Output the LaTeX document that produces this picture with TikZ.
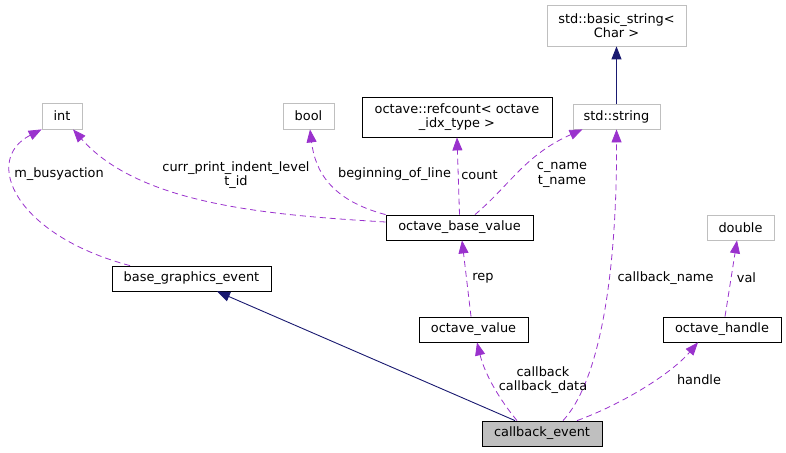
\documentclass[tikz,border=0pt]{standalone}
\usepackage{fontspec}
\setmainfont{DejaVu Sans}
\usetikzlibrary{arrows.meta}
\definecolor{edgepurple}{HTML}{9A32CD}
\definecolor{edgenavy}{HTML}{191970}
\definecolor{boxgray}{HTML}{BFBFBF}
\newcommand\dgfont{\fontsize{12.9}{14.5}\selectfont}
\begin{document}
\begin{tikzpicture}[x=1pt,y=-1pt,
  box/.style={draw=black, line width=0.8pt, inner sep=0pt, align=center, font=\dgfont, minimum height=25pt},
  extbox/.style={box, draw=boxgray},
  lbl/.style={inner sep=0pt, align=center, font=\dgfont},
  dep/.style={draw=edgepurple, dash pattern=on 6pt off 4pt, line width=0.8pt, -{Triangle[length=13pt,width=10pt,fill=edgepurple]}},
  inh/.style={draw=edgenavy, line width=0.9pt, -{Triangle[length=13pt,width=10pt,fill=edgenavy]}}]
\useasboundingbox (0,0) rectangle (786,452);
% nodes
\node[extbox, minimum width=40pt, minimum height=26pt] (int) at (62,116) {int};
\node[extbox, minimum width=51pt, minimum height=26pt] (bool) at (308.5,116) {bool};
\node[box, minimum width=190pt, minimum height=40pt] (rc) at (457,117) {octave::refcount< octave\\\_idx\_type >};
\node[extbox, minimum width=139pt, minimum height=41pt] (bs) at (616.5,25.5) {std::basic\_string<\\Char >};
\node[extbox, minimum width=87pt] (str) at (616.5,116.5) {std::string};
\node[box, minimum width=147pt] (obv) at (459.5,227.5) {octave\_base\_value};
\node[extbox, minimum width=67pt] (dbl) at (740.5,227.5) {double};
\node[box, minimum width=159pt] (bge) at (191.5,278.5) {base\_graphics\_event};
\node[box, minimum width=109pt] (ov) at (473.5,329.5) {octave\_value};
\node[box, minimum width=118pt] (oh) at (722,329.5) {octave\_handle};
\node[box, minimum width=120pt, fill=boxgray] (cbe) at (542,433.5) {callback\_event};
% edges
\draw[inh] (str.north) -- (bs.south);
\draw[inh] ([xshift=-27pt]cbe.north) -- ([xshift=25.5pt]bge.south);
\draw[dep] ([yshift=5.5pt]obv.west) .. controls (270,215) and (140,205) .. ([xshift=11pt]int.south);
\draw[dep] ([xshift=-61.5pt]bge.north) .. controls (15,235) and (-18,160) .. (int.south west);
\draw[dep] (obv.north west) .. controls (330,200) and (315,170) .. ([xshift=1.5pt]bool.south);
\draw[dep] (obv.north) -- (rc.south);
\draw[dep] ([xshift=15.5pt]obv.north) .. controls (510,185) and (525,155) .. ([xshift=-34pt]str.south);
\draw[dep] ([xshift=-2.5pt]ov.north) -- ([xshift=2.5pt]obv.south);
\draw[dep] ([xshift=-25pt]cbe.north) .. controls (500,400) and (485,375) .. ([xshift=3.5pt]ov.south);
\draw[dep] ([xshift=21pt]cbe.north) .. controls (605,375) and (617,250) .. (str.south);
\draw[dep] ([xshift=35pt]cbe.north) .. controls (620,405) and (670,375) .. ([xshift=-24pt]oh.south);
\draw[dep] ([xshift=3pt]oh.north) -- ([xshift=-3.5pt]dbl.south);
% labels
\node[lbl] (l1) at (236,175) {curr\_print\_indent\_level\\t\_id};
\node[lbl] (l2) at (59,174) {m\_busyaction};
\node[lbl] (l3) at (394.5,174) {beginning\_of\_line};
\node[lbl] (l4) at (479.5,175) {count};
\node[lbl] (l5) at (562,175) {c\_name\\t\_name};
\node[lbl] (l6) at (483,278) {rep};
\node[lbl] (l7) at (665.5,278) {callback\_name};
\node[lbl] (l8) at (746.5,278) {val};
\node[lbl] (l9) at (543,380) {callback\\callback\_data};
\node[lbl] (l10) at (699,380) {handle};
\end{tikzpicture}
\end{document}
